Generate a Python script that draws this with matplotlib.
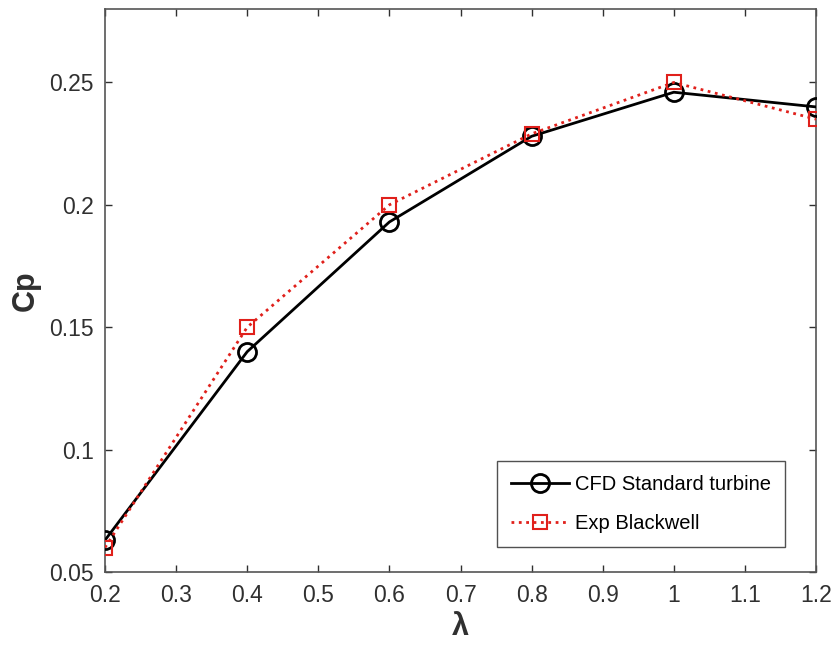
import matplotlib
matplotlib.use("Agg")
import matplotlib.pyplot as plt

plt.rcParams['font.family'] = ['Liberation Sans', 'DejaVu Sans']

tsr = [0.2, 0.4, 0.6, 0.8, 1.0, 1.2]
cp_cfd = [0.063, 0.140, 0.193, 0.228, 0.246, 0.240]
cp_exp = [0.060, 0.150, 0.200, 0.229, 0.250, 0.235]
xticks = [0.2, 0.3, 0.4, 0.5, 0.6, 0.7, 0.8, 0.9, 1.0, 1.1, 1.2]
xticklabels = ['0.2', '0.3', '0.4', '0.5', '0.6', '0.7', '0.8', '0.9', '1', '1.1', '1.2']
yticks = [0.05, 0.1, 0.15, 0.2, 0.25]
yticklabels = ['0.05', '0.1', '0.15', '0.2', '0.25']

fig = plt.figure(figsize=(8.35, 6.47), dpi=100)
ax = fig.add_axes([105/835, 1-572/647, (816-105)/835, (572-9)/647])

axc = '#303030'
ax.plot(tsr, cp_cfd, color='black', lw=2, marker='o', ms=13, mfc='none',
        mec='black', mew=2, label='CFD Standard turbine', zorder=3)
ax.plot(tsr, cp_exp, color='#e0201b', lw=2, ls=':', marker='s', ms=10.5, mfc='none',
        mec='#e0201b', mew=1.5, label='Exp Blackwell', zorder=4)

ax.set_xlim(0.2, 1.2)
ax.set_ylim(0.05, 0.28)
ax.set_xticks(xticks)
ax.set_xticklabels(xticklabels)
ax.set_yticks(yticks)
ax.set_yticklabels(yticklabels)
ax.tick_params(direction='in', length=5, width=1, colors=axc, labelsize=16.5,
               top=True, right=True)
ax.tick_params(axis='x', pad=9)
ax.tick_params(axis='y', pad=8)
for s in ax.spines.values():
    s.set_color('#555555')
    s.set_linewidth(1.2)

ax.set_xlabel('λ', fontsize=22, fontweight='bold', color=axc, labelpad=3)
ax.set_ylabel('Cp', fontsize=22, fontweight='bold', color=axc, labelpad=6)

leg = ax.legend(loc='lower right', bbox_to_anchor=(0.957, 0.044), fontsize=14.5,
                frameon=True, fancybox=False, edgecolor='#262626', handlelength=2.9,
                borderpad=0.7, labelspacing=1.0, handletextpad=0.3,
                borderaxespad=0)
leg.get_frame().set_linewidth(1.0)

fig.savefig('out.png', dpi=100)
